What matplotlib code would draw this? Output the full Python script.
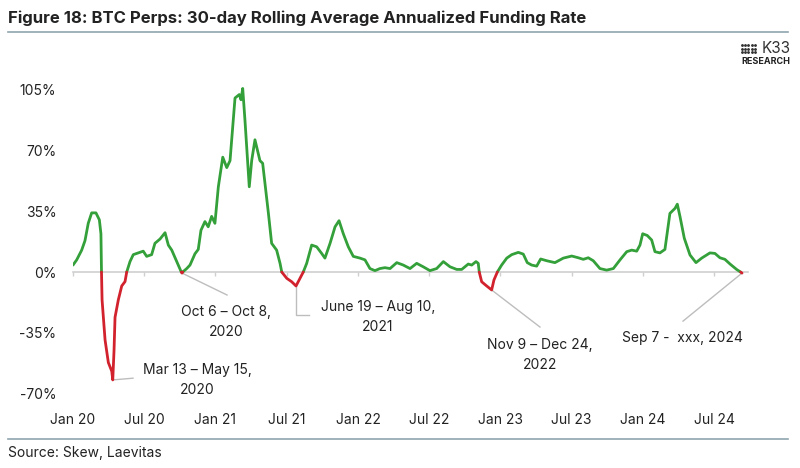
import numpy as np
import matplotlib.pyplot as plt

plt.rcParams['font.family'] = ['Inter', 'DejaVu Sans']

# time as decimal year, value in % (30-day rolling annualized funding)
t = [2020.000, 2020.026, 2020.061, 2020.084, 2020.107, 2020.131, 2020.161, 2020.185,
     2020.196, 2020.200, 2020.204, 2020.225, 2020.248, 2020.272, 2020.279, 2020.288,
     2020.295, 2020.318, 2020.342, 2020.365, 2020.377, 2020.400, 2020.423, 2020.458,
     2020.493, 2020.517, 2020.552, 2020.575, 2020.611, 2020.646, 2020.669, 2020.693,
     2020.728, 2020.760, 2020.765, 2020.770, 2020.798, 2020.821, 2020.856, 2020.879,
     2020.898, 2020.926, 2020.949, 2020.973, 2020.996, 2021.020, 2021.051, 2021.079,
     2021.102, 2021.137, 2021.167, 2021.179, 2021.191, 2021.207, 2021.237, 2021.254,
     2021.277, 2021.312, 2021.331, 2021.371, 2021.394, 2021.429, 2021.453, 2021.465,
     2021.500, 2021.535, 2021.565, 2021.593, 2021.616, 2021.640, 2021.675, 2021.710,
     2021.745, 2021.768, 2021.804, 2021.839, 2021.867, 2021.897, 2021.932, 2021.967,
     2022.014, 2022.049, 2022.084, 2022.119, 2022.154, 2022.189, 2022.225, 2022.272,
     2022.318, 2022.365, 2022.412, 2022.458, 2022.505, 2022.552, 2022.599, 2022.646,
     2022.693, 2022.728, 2022.774, 2022.798, 2022.828, 2022.844, 2022.851, 2022.868,
     2022.903, 2022.938, 2022.954, 2022.978, 2023.008, 2023.044, 2023.079, 2023.125,
     2023.160, 2023.188, 2023.219, 2023.254, 2023.282, 2023.324, 2023.382, 2023.441,
     2023.500, 2023.546, 2023.581, 2023.616, 2023.651, 2023.698, 2023.745, 2023.792,
     2023.839, 2023.886, 2023.921, 2023.956, 2023.979, 2023.998, 2024.030, 2024.061,
     2024.084, 2024.119, 2024.154, 2024.189, 2024.225, 2024.241, 2024.260, 2024.290,
     2024.330, 2024.372, 2024.412, 2024.470, 2024.505, 2024.540, 2024.575, 2024.611,
     2024.657, 2024.685, 2024.695]
rate = [4, 7, 12.6, 18, 28, 34, 34, 30,
        22, 0, -16, -39, -52, -57, -62, -45,
        -26, -16, -8, -5.5, 0, 6, 10, 11,
        12, 9, 10, 16.5, 19, 22.6, 15.5, 12.6,
        6, 0, -0.6, 0, 2, 4, 10.5, 13,
        24, 29, 26, 32, 28, 49, 66, 60,
        64, 100, 102, 99, 105.5, 87, 49, 64,
        76, 64, 62.5, 34, 16.5, 12.6, 5, 0,
        -3.6, -5.6, -8, -3.6, 0, 5, 15.5, 14.5,
        10.7, 8, 16.5, 26, 29.5, 22, 14.5, 9,
        8, 7, 2, 0.8, 2, 2.5, 2, 5.4,
        4, 2, 5, 3, 0.8, 2, 6, 3,
        1.5, 1.5, 4.6, 4, 6, 5, 0, -5.6,
        -8, -10.3, -4.6, 0, 4, 8, 10, 11.3,
        10.3, 5.4, 4, 3.4, 7.5, 6.5, 5.4, 8,
        9.2, 8.2, 7.3, 8.2, 6.5, 2, 1.1, 2,
        7, 11.7, 12.6, 12, 15.5, 22, 21, 18.4,
        11.7, 11, 13, 33.7, 36.6, 39, 31.8, 19.4,
        9.8, 5.4, 8, 11, 10.7, 8.2, 7.3, 4.6,
        1.5, 0, -0.6]

xtick_pos = [2020.0, 2020.5, 2021.0, 2021.5, 2022.0, 2022.5, 2023.0, 2023.5, 2024.0, 2024.5]
xtick_labels = ['Jan 20', 'Jul 20', 'Jan 21', 'Jul 21', 'Jan 22', 'Jul 22',
                'Jan 23', 'Jul 23', 'Jan 24', 'Jul 24']
ytick_pos = [-70, -35, 0, 35, 70, 105]

# annotations: anchor on curve, end of leader line, text position, text
ann_xy = [(2020.279, -62), (2020.765, -0.6), (2021.565, -8), (2022.938, -10.3), (2024.695, -0.6)]
ann_end = [(2020.421, -61), (2021.081, -13.2), (2021.579, -24.7), (2023.277, -31.6), (2024.281, -28.2)]
ann_txt = [(2020.870, -62), (2021.074, -28.7), (2022.140, -25.9), (2023.277, -47.7), (2024.274, -38)]
ann_labels = ['Mar 13 – May 15,\n2020', 'Oct 6 – Oct 8,\n2020', 'June 19 – Aug 10,\n2021',
              'Nov 9 – Dec 24,\n2022', 'Sep 7 -  xxx, 2024']

t = np.array(t)
rate = np.array(rate)
pos = np.where(rate >= 0, rate, np.nan)
neg = np.where(rate <= 0, rate, np.nan)

green = '#34a03a'
red = '#d2222d'
grey = '#cfcfcf'
ymin, ymax = -72, 118

fig = plt.figure(figsize=(8, 4.68), dpi=100)
ax = fig.add_axes([0.09125, 0.151, 0.84375, 0.7065])

ax.plot(t, pos, color=green, lw=2.0, solid_capstyle='round', zorder=3)
ax.plot(t, neg, color=red, lw=2.0, solid_capstyle='round', zorder=3)

ax.set_xlim(2020.0, 2024.737)
ax.set_ylim(ymin, ymax)
ax.set_yticks(ytick_pos)
ax.set_yticklabels([f'{v}%' for v in ytick_pos])
ax.tick_params(axis='y', length=0, labelsize=10, colors='#222222', pad=12)
for s in ax.spines.values():
    s.set_visible(False)

# zero line carries the small tick marks, labels sit low
ax.spines['bottom'].set_visible(True)
ax.spines['bottom'].set_position(('data', 0))
ax.spines['bottom'].set_color(grey)
ax.spines['bottom'].set_linewidth(1.2)
ax.set_xticks(xtick_pos)
ax.tick_params(axis='x', length=3, width=1, color=grey, labelbottom=False)

lab_ax = ax.secondary_xaxis('bottom')
lab_ax.set_xticks(xtick_pos)
lab_ax.set_xticklabels(xtick_labels)
lab_ax.tick_params(length=0, labelsize=10, colors='#222222', pad=11)
lab_ax.spines['bottom'].set_visible(False)

for (x0, y0), (x1, y1), (xt, yt), lab in zip(ann_xy, ann_end, ann_txt, ann_labels):
    if lab.startswith('June'):
        ax.plot([x0, x0, x1 + 0.08], [y0, y1, y1], color='#bdbdbd', lw=1, zorder=2)
    else:
        ax.plot([x0, x1], [y0, y1], color='#bdbdbd', lw=1, zorder=2)
    ax.text(xt, yt, lab, ha='center', va='center', fontsize=10, color='#222222',
            linespacing=1.6)

fig.text(0.01, 0.962, 'Figure 18: BTC Perps: 30-day Rolling Average Annualized Funding Rate',
         fontsize=12, fontweight='bold', color='#222222', va='center', ha='left')
fig.add_artist(plt.Line2D([0.01, 0.985], [0.931, 0.931], color='#8fa4ae', lw=1.2))
fig.add_artist(plt.Line2D([0.01, 0.985], [0.062, 0.062], color='#8fa4ae', lw=1.2))
fig.text(0.01, 0.032, 'Source: Skew, Laevitas', fontsize=10, color='#222222', va='center')

# logo
fig.text(0.988, 0.896, 'K33', fontsize=11, color='#333333', ha='right', va='center')
fig.text(0.988, 0.869, 'RESEARCH', fontsize=6.5, fontweight='bold', color='#222222',
         ha='right', va='center')
dots_x = np.repeat(np.arange(5), 3) * 0.0038 + 0.928
dots_y = np.tile(np.arange(3), 5) * 0.0075 + 0.888
fig.add_artist(plt.scatter(dots_x, dots_y, s=0.6, c='#333333', transform=fig.transFigure,
                           clip_on=False))

fig.savefig('out.png', dpi=100)
